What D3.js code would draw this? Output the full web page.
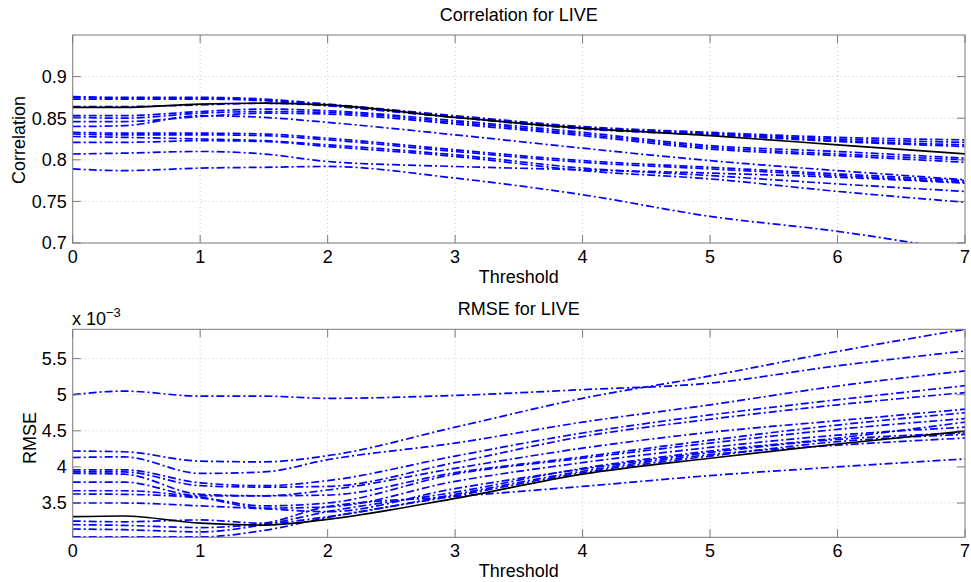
<!DOCTYPE html>
<html>
<head>
<meta charset="utf-8">
<script src="https://cdn.jsdelivr.net/npm/d3@7"></script>
<style>
  html, body { margin: 0; padding: 0; background: #fff; }
  svg { display: block; }
  text { font-family: "Liberation Sans", Arial, Helvetica, sans-serif; fill: #000; }
</style>
</head>
<body>
<svg id="chart" width="971" height="582"></svg>
<script>
// ---------------- data ----------------
const thresholds = [0, 0.4, 1, 1.5, 2, 3, 4, 5, 6, 7];
const xTicks = [0, 1, 2, 3, 4, 5, 6, 7];

const corrTicks = [0.7, 0.75, 0.8, 0.85, 0.9];
const corrTickLabels = ["0.7", "0.75", "0.8", "0.85", "0.9"];
const corrDomain = [0.7, 0.95];

const corrBlack = [0.863, 0.863, 0.867, 0.868, 0.866, 0.851, 0.838, 0.829, 0.818, 0.807];
const corrBlue = [
  [0.876, 0.875, 0.875, 0.873, 0.867, 0.853, 0.840, 0.833, 0.827, 0.824],
  [0.875, 0.874, 0.874, 0.872, 0.866, 0.852, 0.839, 0.832, 0.825, 0.821],
  [0.873, 0.873, 0.873, 0.871, 0.865, 0.851, 0.838, 0.831, 0.823, 0.818],
  [0.864, 0.864, 0.866, 0.868, 0.865, 0.851, 0.837, 0.830, 0.822, 0.816],
  [0.853, 0.853, 0.858, 0.861, 0.859, 0.847, 0.833, 0.817, 0.810, 0.802],
  [0.851, 0.850, 0.856, 0.858, 0.857, 0.845, 0.831, 0.815, 0.807, 0.800],
  [0.846, 0.846, 0.852, 0.856, 0.855, 0.843, 0.829, 0.813, 0.805, 0.797],
  [0.840, 0.841, 0.853, 0.851, 0.845, 0.830, 0.814, 0.799, 0.787, 0.776],
  [0.833, 0.832, 0.832, 0.831, 0.826, 0.812, 0.799, 0.791, 0.783, 0.775],
  [0.831, 0.830, 0.830, 0.829, 0.824, 0.810, 0.797, 0.789, 0.781, 0.773],
  [0.828, 0.827, 0.825, 0.823, 0.818, 0.806, 0.790, 0.781, 0.771, 0.762],
  [0.821, 0.821, 0.823, 0.822, 0.816, 0.804, 0.787, 0.777, 0.762, 0.749],
  [0.807, 0.808, 0.810, 0.807, 0.798, 0.792, 0.788, 0.784, 0.779, 0.772],
  [0.789, 0.787, 0.790, 0.791, 0.792, 0.778, 0.758, 0.732, 0.714, 0.690]
];

const rmseTicks = [3.5, 4, 4.5, 5, 5.5];
const rmseTickLabels = ["3.5", "4", "4.5", "5", "5.5"];
const rmseDomain = [3.025, 5.906];   // x 10^-3

const rmseBlack = [3.31, 3.32, 3.22, 3.195, 3.274, 3.565, 3.90, 4.12, 4.317, 4.497];
const rmseBlue = [
  [5.00, 5.05, 4.98, 4.98, 4.95, 4.99, 5.07, 5.16, 5.40, 5.605],
  [4.22, 4.21, 4.08, 4.07, 4.155, 4.55, 4.95, 5.26, 5.60, 5.906],
  [4.13, 4.14, 3.91, 3.93, 4.10, 4.33, 4.62, 4.86, 5.12, 5.33],
  [3.96, 3.96, 3.78, 3.74, 3.81, 4.15, 4.47, 4.72, 4.93, 5.125],
  [3.93, 3.93, 3.74, 3.72, 3.73, 4.06, 4.42, 4.66, 4.86, 5.03],
  [3.91, 3.90, 3.62, 3.60, 3.68, 3.98, 4.26, 4.48, 4.64, 4.80],
  [3.79, 3.79, 3.60, 3.60, 3.61, 3.92, 4.14, 4.37, 4.58, 4.75],
  [3.67, 3.67, 3.58, 3.46, 3.50, 3.90, 4.12, 4.33, 4.52, 4.67],
  [3.625, 3.62, 3.57, 3.43, 3.445, 3.80, 4.06, 4.27, 4.44, 4.55],
  [3.50, 3.50, 3.46, 3.42, 3.38, 3.70, 3.97, 4.20, 4.38, 4.47],
  [3.25, 3.24, 3.265, 3.22, 3.31, 3.62, 3.94, 4.17, 4.30, 4.40],
  [3.20, 3.19, 3.16, 3.22, 3.45, 3.59, 3.73, 3.88, 4.00, 4.11],
  [3.14, 3.13, 3.10, 3.20, 3.38, 3.65, 3.98, 4.22, 4.40, 4.62],
  [3.03, 3.03, 3.03, 3.12, 3.30, 3.60, 3.92, 4.15, 4.35, 4.45]
];

// ---------------- drawing ----------------
const svg = d3.select("#chart");
const FS = 18;

function panel(cfg) {
  const { left, right, top, bottom, domain, ticks, tickLabels, black, blue, title, ylabel, ylabelX, ylabelY, id } = cfg;
  const x = d3.scaleLinear().domain([0, 7]).range([left, right]);
  const y = d3.scaleLinear().domain(domain).range([bottom, top]);
  const g = svg.append("g");

  g.append("rect").attr("x", left).attr("y", top).attr("width", right - left).attr("height", bottom - top)
    .attr("fill", "#fff");

  // grid
  g.append("g").selectAll("line").data(xTicks.filter(t => t > 0 && t < 7)).join("line")
    .attr("x1", d => x(d)).attr("x2", d => x(d)).attr("y1", top).attr("y2", bottom)
    .attr("stroke", "#c8c8c8").attr("stroke-width", 1).attr("stroke-dasharray", "1,3");
  g.append("g").selectAll("line").data(ticks).join("line")
    .attr("x1", left).attr("x2", right).attr("y1", d => y(d)).attr("y2", d => y(d))
    .attr("stroke", "#c8c8c8").attr("stroke-width", 1).attr("stroke-dasharray", "1,3");

  // clip
  svg.append("defs").append("clipPath").attr("id", id).append("rect")
    .attr("x", left).attr("y", top).attr("width", right - left).attr("height", bottom - top);

  const line = d3.line().x((d, i) => x(thresholds[i])).y(d => y(d)).curve(d3.curveMonotoneX);
  const lg = g.append("g").attr("clip-path", `url(#${id})`);
  lg.selectAll("path.blue").data(blue).join("path").attr("class", "blue")
    .attr("d", line).attr("fill", "none").attr("stroke", "#0000ff")
    .attr("stroke-width", 1.7).attr("stroke-dasharray", "8,3,2,3");
  lg.append("path").datum(black).attr("d", line).attr("fill", "none")
    .attr("stroke", "#000").attr("stroke-width", 1.7);

  // ticks (inward, all sides)
  const tl = 8;
  const tg = g.append("g").attr("stroke", "#7a7a7a").attr("stroke-width", 1);
  xTicks.forEach(t => {
    tg.append("line").attr("x1", x(t)).attr("x2", x(t)).attr("y1", bottom).attr("y2", bottom - tl);
    tg.append("line").attr("x1", x(t)).attr("x2", x(t)).attr("y1", top).attr("y2", top + tl);
  });
  ticks.forEach(t => {
    tg.append("line").attr("x1", left).attr("x2", left + tl).attr("y1", y(t)).attr("y2", y(t));
    tg.append("line").attr("x1", right).attr("x2", right - tl).attr("y1", y(t)).attr("y2", y(t));
  });
  g.append("rect").attr("x", left).attr("y", top).attr("width", right - left).attr("height", bottom - top)
    .attr("fill", "none").attr("stroke", "#7a7a7a").attr("stroke-width", 1);

  // tick labels
  g.append("g").selectAll("text").data(xTicks).join("text")
    .attr("x", d => x(d)).attr("y", bottom + 20).attr("text-anchor", "middle")
    .attr("font-size", FS).text(d => d);
  g.append("g").selectAll("text").data(ticks).join("text")
    .attr("x", left - 6).attr("y", d => y(d)).attr("dy", "0.35em").attr("text-anchor", "end")
    .attr("font-size", FS).text((d, i) => tickLabels[i]);

  // titles
  g.append("text").attr("x", (left + right) / 2).attr("y", top - 14).attr("text-anchor", "middle")
    .attr("font-size", FS).text(title);
  g.append("text").attr("x", (left + right) / 2).attr("y", bottom + 40).attr("text-anchor", "middle")
    .attr("font-size", FS).text("Threshold");
  g.append("text").attr("transform", `translate(${ylabelX},${ylabelY}) rotate(-90)`)
    .attr("text-anchor", "middle").attr("font-size", FS).text(ylabel);
  return { x, y };
}

panel({
  id: "clipTop", left: 72.7, right: 965, top: 35, bottom: 243,
  domain: corrDomain, ticks: corrTicks, tickLabels: corrTickLabels,
  black: corrBlack, blue: corrBlue, title: "Correlation for LIVE",
  ylabel: "Correlation", ylabelX: 25, ylabelY: 140
});

panel({
  id: "clipBot", left: 72.7, right: 965, top: 329.3, bottom: 537.3,
  domain: rmseDomain, ticks: rmseTicks, tickLabels: rmseTickLabels,
  black: rmseBlack, blue: rmseBlue, title: "RMSE for LIVE",
  ylabel: "RMSE", ylabelX: 36, ylabelY: 438
});

// exponent label
const ex = svg.append("text").attr("x", 72).attr("y", 325).attr("font-size", FS);
ex.append("tspan").text("x 10");
ex.append("tspan").attr("dy", -8).attr("font-size", 13).text("\u22123");
</script>
</body>
</html>
